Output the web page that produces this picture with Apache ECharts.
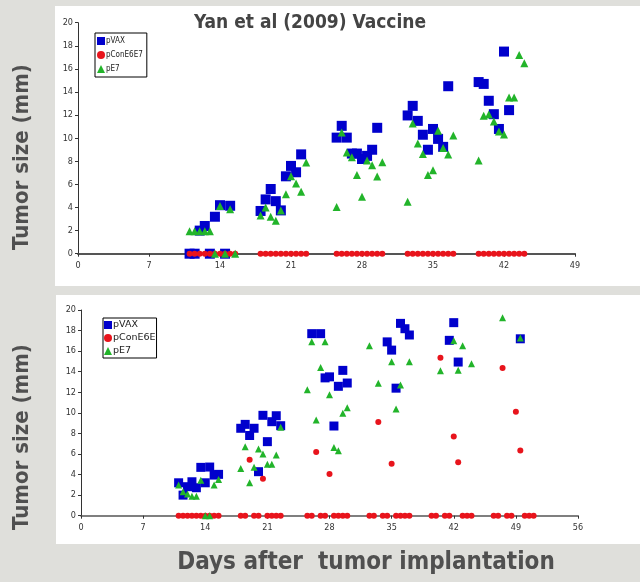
<!DOCTYPE html>
<html><head><meta charset="utf-8">
<script src="https://cdn.jsdelivr.net/npm/echarts@6/dist/echarts.min.js"></script>
<style>html,body{margin:0;padding:0;background:#dfdfdb;}#c{width:640px;height:582px;}</style>
</head><body><div id="c"></div>
<script>
// Top chart (x: days, y: tumor size mm)
const topVax = [
 [11,0],[11.5,0],[12,2.0],[12.5,2.4],[13,0],[13.5,3.2],[14,4.2],[14.5,0],[15,4.15],
 [18,3.7],[18.5,4.7],[19,5.6],[19.5,4.55],[20,3.75],[20.5,6.7],[21,7.6],[21.5,7.05],[22,8.6],
 [25.5,10.05],[26,11.07],[26.5,10.05],[27,8.67],[27.5,8.67],[28,8.2],[28.5,8.47],[29,9.0],[29.5,10.9],
 [32.5,11.97],[33,12.8],[33.5,11.5],[34,10.3],[34.5,9.0],[35,10.8],[35.5,9.94],[36,9.25],[36.5,14.5],
 [39.5,14.86],[40,14.7],[40.5,13.24],[41,12.08],[41.5,10.8],[42,17.5],[42.5,12.43]
];
const topCon = [
 [11,0],[11.5,0],[12,0],[12.5,0],[13,0],[13.5,0],[14,0],[14.5,0],[15,0],[15.5,0],
 [18,0],[18.5,0],[19,0],[19.5,0],[20,0],[20.5,0],[21,0],[21.5,0],[22,0],[22.5,0],
 [25.5,0],[26,0],[26.5,0],[27,0],[27.5,0],[28,0],[28.5,0],[29,0],[29.5,0],[30,0],
 [32.5,0],[33,0],[33.5,0],[34,0],[34.5,0],[35,0],[35.5,0],[36,0],[36.5,0],[37,0],
 [39.5,0],[40,0],[40.5,0],[41,0],[41.5,0],[42,0],[42.5,0],[43,0],[43.5,0],[44,0]
];
const topE7 = [
 [11,1.94],[11.5,1.94],[12,1.94],[12.5,1.94],[13,1.94],[13.5,0],[14,4.13],[14.5,0],[15,3.85],[15.5,0],
 [18,3.3],[18.5,4.0],[19,3.2],[19.5,2.85],[20,3.75],[20.5,5.15],[21,6.7],[21.5,6.07],[22,5.37],[22.5,7.9],
 [25.5,4.05],[26,10.5],[26.5,8.76],[27,8.35],[27.5,6.82],[28,4.94],[28.5,8.06],[29,7.66],[29.5,6.68],[30,7.92],
 [32.5,4.5],[33,11.27],[33.5,9.54],[34,8.64],[34.5,6.82],[35,7.23],[35.5,10.64],[36,9.16],[36.5,8.58],[37,10.23],
 [39.5,8.06],[40,11.94],[40.5,12.05],[41,11.45],[41.5,10.58],[42,10.32],[42.5,13.53],[43,13.53],[43.5,17.2],[44,16.5]
];
// Bottom chart
const botVax = [
 [11,3.2],[11.5,2.0],[12,2.82],[12.5,3.3],[13,2.72],[13.5,4.7],[14,3.2],[14.5,4.73],[15,3.95],[15.5,4.02],
 [18,8.5],[18.5,8.88],[19,7.8],[19.5,8.5],[20,4.28],[20.5,9.76],[21,7.2],[21.5,9.14],[22,9.72],[22.5,8.75],
 [26,17.7],[27,17.7],[27.5,13.4],[28,13.5],[28.5,8.72],[29,12.58],[29.5,14.13],[30,12.9],
 [34.5,16.9],[35,16.1],[35.5,12.4],[36,18.7],[36.5,18.18],[37,17.57],
 [41.5,17.05],[42,18.77],[42.5,14.94],
 [49.5,17.2]
];
const botCon = [
 [11,0],[11.5,0],[12,0],[12.5,0],[13,0],[13.5,0],[14,0],[14.5,0],[15,0],[15.5,0],
 [18,0],[18.5,0],[19,5.45],[19.5,0],[20,0],[20.5,3.6],[21,0],[21.5,0],[22,0],[22.5,0],
 [25.5,0],[26,0],[26.5,6.2],[27,0],[27.5,0],[28,4.05],[28.5,0],[29,0],[29.5,0],[30,0],
 [32.5,0],[33,0],[33.5,9.1],[34,0],[34.5,0],[35,5.06],[35.5,0],[36,0],[36.5,0],[37,0],
 [39.5,0],[40,0],[40.5,15.36],[41,0],[41.5,0],[42,7.7],[42.5,5.19],[43,0],[43.5,0],[44,0],
 [46.5,0],[47,0],[47.5,14.36],[48,0],[48.5,0],[49,10.11],[49.5,6.35],[50,0],[50.5,0],[51,0]
];
const botE7 = [
 [11,2.98],[11.5,2.33],[12,2.1],[12.5,1.9],[13,1.9],[13.5,3.44],[14,0],[14.5,0],[15,2.98],[15.5,3.53],
 [18,4.6],[18.5,6.7],[19,3.2],[19.5,4.7],[20,6.48],[20.5,6.0],[21,5.0],[21.5,5.0],[22,5.9],[22.5,8.59],
 [25.5,12.25],[26,16.92],[26.5,9.3],[27,14.42],[27.5,16.92],[28,11.77],[28.5,6.64],[29,6.32],[29.5,9.95],[30,10.5],
 [32.5,16.53],[33.5,12.87],[35,14.98],[35.5,10.37],[36,12.7],[37,14.98],
 [40.5,14.1],[42,17.0],[42.5,14.13],[43,16.53],[44,14.78],
 [47.5,19.25],[49.5,17.27]
];
const topNames = ['pVAX','pConE6E7','pE7'];
const botNames = ['pVAX ','pConE6E','pE7 '];
const topXMax = 49, botXMax = 56, xStep = 7, yMax = 20, yStep = 2;
const mainTitle = 'Yan et al (2009) Vaccine';
const yTitle = 'Tumor size (mm)';
const xTitle = 'Days after  tumor implantation';

const BLUE = '#0000cc', RED = '#e8141c', GREEN = '#22b42a';
const tickFont = 'DejaVu Sans Condensed, DejaVu Sans, sans-serif';
function xAxis(grid, max){
  return {type:'value', gridIndex:grid, min:0, max:max, interval:xStep,
    axisLine:{lineStyle:{color:'#555', width:grid===0?2:1.5}},
    axisTick:{length:3, lineStyle:{color:'#333'}},
    axisLabel:{fontSize:9, color:'#333', margin:7, fontFamily:tickFont},
    splitLine:{show:false}};
}
function yAxis(grid){
  return {type:'value', gridIndex:grid, min:0, max:yMax, interval:yStep,
    axisLine:{show:true, lineStyle:{color:'#333', width:1}},
    axisTick:{show:true, length:3, lineStyle:{color:'#333'}},
    axisLabel:{fontSize:9, color:'#333', margin:5, fontFamily:tickFont},
    splitLine:{show:false}};
}
function sc(name, data, xi, sym, size, color){
  return {name:name, type:'scatter', xAxisIndex:xi, yAxisIndex:xi, data:data,
    symbol:sym, symbolSize:size, itemStyle:{color:color, opacity:1}, emphasis:{disabled:true}};
}
const chart = echarts.init(document.getElementById('c'));
chart.setOption({
  backgroundColor:'#dfdfdb',
  animation:false,
  graphic:[
    {type:'rect', shape:{x:55,y:6,width:585,height:280}, style:{fill:'#ffffff'}, z:-10},
    {type:'rect', shape:{x:56,y:295,width:584,height:249}, style:{fill:'#ffffff'}, z:-10},
    {type:'text', x:310, y:23, style:{text:mainTitle, fill:'#444', font:'bold 19px "DejaVu Sans Condensed", "DejaVu Sans", sans-serif', textAlign:'center', textVerticalAlign:'middle'}},
    {type:'text', x:22, y:157, rotation:Math.PI/2, style:{text:yTitle, fill:'#505050', font:'bold 22px "DejaVu Sans Condensed", "DejaVu Sans", sans-serif', textAlign:'center', textVerticalAlign:'middle'}},
    {type:'text', x:22, y:437, rotation:Math.PI/2, style:{text:yTitle, fill:'#505050', font:'bold 22px "DejaVu Sans Condensed", "DejaVu Sans", sans-serif', textAlign:'center', textVerticalAlign:'middle'}},
    {type:'text', x:366, y:563, style:{text:xTitle, fill:'#505050', font:'bold 24px "DejaVu Sans Condensed", "DejaVu Sans", sans-serif', textAlign:'center', textVerticalAlign:'middle'}}
  ],
  grid:[
    {left:78, top:22.7, width:497, height:231},
    {left:81, top:310, width:497, height:205.7}
  ],
  legend:[
    {data:topNames, left:95, top:33, orient:'vertical', itemGap:4, itemWidth:8, itemHeight:8,
     padding:[3,4,3,2], borderColor:'#000', borderWidth:1, backgroundColor:'#fff', selectedMode:false,
     textStyle:{fontSize:8, color:'#222', padding:[0,0,0,-4], lineHeight:10, fontFamily:tickFont}},
    {data:botNames, left:103, top:318, orient:'vertical', itemGap:3, itemWidth:8, itemHeight:8,
     padding:[2,1,2,1], borderColor:'#000', borderWidth:1, backgroundColor:'#fff', selectedMode:false,
     textStyle:{fontSize:9.5, color:'#222', padding:[0,0,0,-4], lineHeight:10, fontFamily:'DejaVu Sans, sans-serif'}}
  ],
  xAxis:[xAxis(0, topXMax), xAxis(1, botXMax)],
  yAxis:[yAxis(0), yAxis(1)],
  series:[
    sc(topNames[0], topVax, 0, 'rect', 10, BLUE),
    sc(topNames[1], topCon, 0, 'circle', 6, RED),
    sc(topNames[2], topE7, 0, 'triangle', 8, GREEN),
    sc(botNames[0], botVax, 1, 'rect', 9, BLUE),
    sc(botNames[1], botCon, 1, 'circle', 6, RED),
    sc(botNames[2], botE7, 1, 'triangle', 7, GREEN)
  ]
});
</script></body></html>
